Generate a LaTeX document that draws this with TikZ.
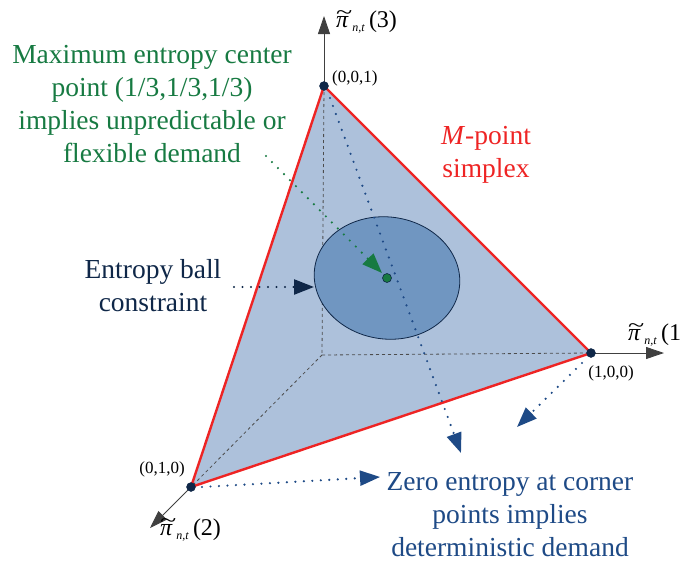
\documentclass[tikz,border=0pt]{standalone}
\usepackage{fontspec}
\setmainfont{Liberation Serif}
\usetikzlibrary{arrows.meta}
\definecolor{fillb}{HTML}{ADC1DB}
\definecolor{ellb}{HTML}{7096C1}
\definecolor{navy}{HTML}{0F2748}
\definecolor{bluet}{HTML}{1E4A86}
\definecolor{greent}{HTML}{177A42}
\definecolor{redl}{HTML}{EE2424}
\newcommand{\pitl}[1]{\ooalign{\textit{π}\cr\hfil\raisebox{0.3em}{\scalebox{1.25}[0.9]{\textasciitilde}}\hfil\cr}\raisebox{-0.4ex}{\fontsize{12}{12}\selectfont\textit{n,t}}\,(#1)}
\begin{document}
\begin{tikzpicture}[x=1pt,y=-1pt,
  vdot/.style={circle,fill=navy,draw=navy,inner sep=0pt,minimum size=9pt},
  axisarr/.style={draw=black!75,line width=0.9pt,-{Triangle[length=18pt,width=12pt]}},
  dotarr/.style={line width=2.4pt,line cap=round,dash pattern=on 0pt off 8.5pt,-{Triangle[length=20pt,width=15pt,line cap=butt]}},
  lbl/.style={font=\fontsize{27.5}{33}\selectfont,align=center},
  small/.style={font=\fontsize{17}{20}\selectfont,inner sep=0pt},
  axl/.style={font=\fontsize{24}{26}\selectfont,inner sep=0pt}]
\useasboundingbox (0,0) rectangle (681,568);
% coordinates
\coordinate (O) at (322,355);
\coordinate (C) at (324,86);
\coordinate (A) at (591,353);
\coordinate (B) at (191,487);
\coordinate (M) at (387,278);
% filled simplex
\fill[fillb] (C) -- (A) -- (B) -- cycle;
% hidden axes
\draw[dashed,black!70,line width=0.8pt] (C) -- (O) (O) -- (A) (O) -- (B);
% ellipse
\draw[navy,fill=ellb,line width=0.8pt,rotate around={-8:(M)}] (M) ellipse [x radius=73, y radius=61];
% edges
\draw[redl,line width=2.4pt,line join=round] (C) -- (A) -- (B) -- cycle;
% axes arrows
\coordinate (A3) at (324,16);
\coordinate (A1) at (664,353);
\coordinate (A2) at (150,528);
\draw[axisarr] (C) -- (A3);
\draw[axisarr] (A) -- (A1);
\draw[axisarr] (B) -- (A2);
% center dot
\node[circle,fill=greent,draw=navy,line width=0.6pt,inner sep=0pt,minimum size=9pt] (Mc) at (M) {};
% vertices
\node[vdot] (Cv) at (C) {};
\node[vdot] (Av) at (A) {};
\node[vdot] (Bv) at (B) {};
% labels
\node[small,anchor=west] (lc) at (332,78) {(0,0,1)};
\node[small,anchor=north] (la) at (611,366) {(1,0,0)};
\node[small,anchor=east] (lb) at (185,469) {(0,1,0)};
\node[axl,anchor=base west] (p3) at (336,27) {\pitl{3}};
\node[axl,anchor=base west] (p1) at (628,340) {\pitl{1}};
\node[axl,anchor=base west] (p2) at (160,535) {\pitl{2}};
% texts
\node[lbl,text=greent] (tmax) at (152,104) {Maximum entropy center\\point (1/3,1/3,1/3)\\implies unpredictable or\\flexible demand};
\node[lbl,text=redl] (tsim) at (486,155) {\textit{M}-point\\simplex};
\node[lbl,text=navy] (tball) at (153,286) {Entropy ball\\constraint};
\node[lbl,text=bluet] (tzero) at (510,515) {Zero entropy at corner\\points implies\\deterministic demand};
% arrows
\coordinate (g0) at (266,156);
\coordinate (g1) at (382,273);
\draw[dotarr,greent] (g0) -- (g1);
\coordinate (n0) at (234,287);
\coordinate (n1) at (314,287);
\draw[dotarr,navy] (n0) -- (n1);
\coordinate (c0) at (330,98);
\coordinate (c1) at (461,453);
\draw[dotarr,bluet] (c0) -- (c1);
\coordinate (a0) at (582,363);
\coordinate (a1) at (517,427);
\draw[dotarr,bluet] (a0) -- (a1);
\coordinate (b0) at (202,487);
\coordinate (b1) at (380,477);
\draw[dotarr,bluet] (b0) -- (b1);
\end{tikzpicture}
\end{document}
